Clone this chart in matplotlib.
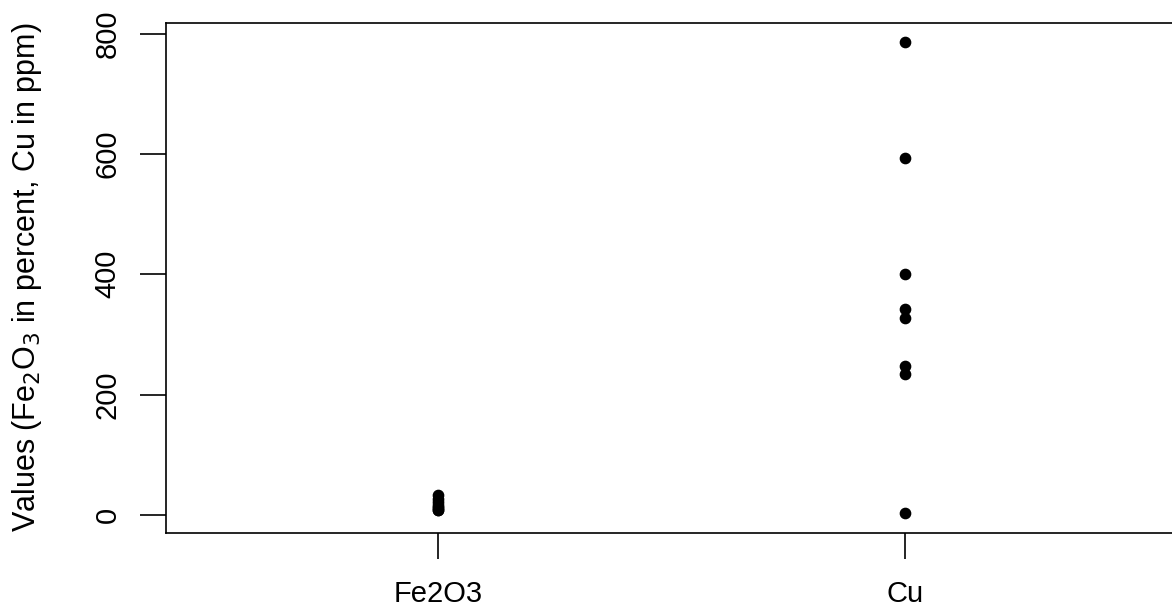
import matplotlib
matplotlib.use("Agg")
from matplotlib import pyplot as plt

plt.rcParams['font.family'] = ['Liberation Sans', 'DejaVu Sans']

groups = ["Fe2O3", "Cu"]
fe2o3 = [7.5, 9.0, 11.0, 13.5, 17.0, 21.0, 26.0, 32.5]
cu = [786, 594, 400, 342, 328, 248, 235, 3]
y_ticks = [0, 200, 400, 600, 800]

fig = plt.figure(figsize=(11.72, 6.12), dpi=100)
# right edge of the box runs past the image border, as in the reference
ax = fig.add_axes([166 / 1172, (612 - 532.7) / 612, 1010 / 1172, (532.7 - 22.7) / 612])

for i, vals in enumerate([fe2o3, cu], start=1):
    ax.plot([i] * len(vals), vals, "o", color="black", markersize=7.4, linestyle="none")

ax.set_xlim(0.4176, 2.58)
ax.set_ylim(-29.4, 818)

ax.set_xticks([1, 2])
ax.set_xticklabels(groups)
ax.set_yticks(y_ticks)
ax.set_yticklabels([str(t) for t in y_ticks], rotation=90, va="center")

ax.tick_params(axis="both", length=19, width=1.2, labelsize=21, color="black")
ax.tick_params(axis="x", pad=15)
ax.tick_params(axis="y", pad=13)
for s in ax.spines.values():
    s.set_linewidth(1.2)

ax.set_ylabel("Values (Fe$_2$O$_3$ in percent, Cu in ppm)", fontsize=22, labelpad=36)

fig.savefig("out.png", dpi=100)
